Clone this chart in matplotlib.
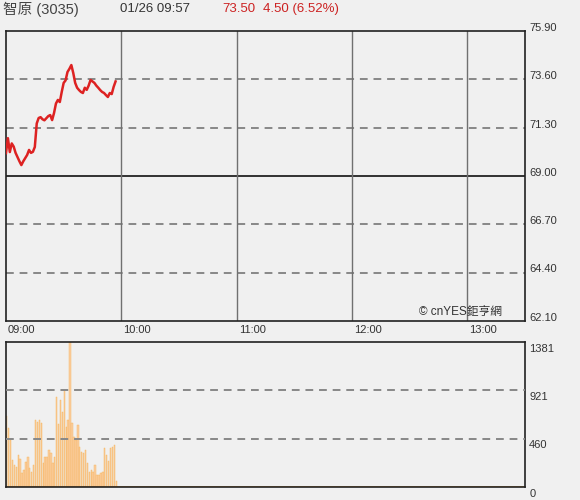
import matplotlib.pyplot as plt
from matplotlib.transforms import ScaledTranslation

plt.rcParams['font.family'] = ['Liberation Sans', 'Noto Sans CJK TC', 'DejaVu Sans']

# minutes after 09:00
minutes = list(range(0, 58))
price = [70.09, 70.80, 70.14, 70.55, 70.40, 70.10, 69.90, 69.70, 69.52, 69.70,
         69.85, 70.00, 70.24, 70.10, 70.15, 70.38, 71.50, 71.76, 71.80, 71.70,
         71.65, 71.75, 71.85, 71.90, 71.66, 72.00, 72.45, 72.62, 72.52, 73.00,
         73.43, 73.55, 73.95, 74.10, 74.28, 73.90, 73.43, 73.20, 73.09, 73.00,
         72.95, 73.20, 73.10, 73.30, 73.57, 73.50, 73.43, 73.30, 73.20, 73.09,
         73.00, 72.95, 72.85, 72.76, 72.95, 72.90, 73.24, 73.50]
volume = [676, 560, 447, 257, 210, 193, 305, 266, 133, 162,
          240, 289, 181, 146, 209, 638, 622, 638, 609, 228,
          289, 289, 352, 324, 228, 289, 860, 600, 828, 717,
          923, 574, 638, 1381, 609, 479, 447, 590, 383, 336,
          321, 352, 228, 146, 160, 146, 209, 114, 114, 133,
          140, 368, 305, 250, 368, 383, 400, 60]

prev_close = 69.00
price_ticks = [75.90, 73.60, 71.30, 69.00, 66.70, 64.40, 62.10]
vol_ticks = [0, 460, 921, 1381]
hour_pos = [0, 60, 120, 180, 240]
hour_labels = ["09:00", "10:00", "11:00", "12:00", "13:00"]

bg = '#f0f0f0'
fig = plt.figure(figsize=(5.8, 5.0), dpi=100, facecolor=bg)
ax1 = fig.add_axes([0.0103, 0.358, 0.895, 0.58], facecolor=bg)
ax2 = fig.add_axes([0.0103, 0.026, 0.895, 0.290], facecolor=bg)

# price panel
for t in price_ticks[1:-1]:
    if t == prev_close:
        ax1.axhline(t, color='#111111', lw=1.2, zorder=2)
    else:
        ax1.axhline(t, color='#888888', lw=1.4, ls=(0, (4, 3)), zorder=2)
for h in hour_pos[1:]:
    ax1.axvline(h, color='#707070', lw=1.0, zorder=2)
ax1.plot(minutes, price, color='#dd2222', lw=1.8, zorder=3)
ax1.set_xlim(0, 270)
ax1.set_ylim(62.10, 75.90)
ax1.set_yticks(price_ticks)
ax1.set_yticklabels([f"{t:.2f}" for t in price_ticks])
ax1.set_xticks(hour_pos)
ax1.set_xticklabels(hour_labels, ha='left')
ax1.text(0.955, 0.012, "© cnYES鉅亨網", transform=ax1.transAxes, ha='right',
         va='bottom', fontsize=8.5, color='#333333')

# volume panel
ax2.bar(minutes, volume, width=0.75, align='edge', color='#fbcfa2',
        edgecolor='#f5b255', lw=0.3, zorder=1)
ax2.axhline(0, color='#f2a640', lw=1.2, zorder=2)
for t in vol_ticks[1:-1]:
    ax2.axhline(t, color='#888888', lw=1.4, ls=(0, (4, 3)), zorder=3)
ax2.set_xlim(0, 270)
ax2.set_ylim(0, 1381)
ax2.set_yticks(vol_ticks)
ax2.set_yticklabels([str(t) for t in vol_ticks])
ax2.set_xticks([])

for ax in (ax1, ax2):
    for s in ax.spines.values():
        s.set_color('#222222')
        s.set_linewidth(1.2)
    ax.yaxis.tick_right()
    ax.tick_params(axis='y', length=0, pad=3, labelsize=8, labelcolor='#333333')
    ax.tick_params(axis='x', length=0, pad=3, labelsize=8, labelcolor='#333333')

for lab in ax1.get_yticklabels():
    lab.set_transform(lab.get_transform() + ScaledTranslation(0, 3 / 72, fig.dpi_scale_trans))
for lab in ax1.get_xticklabels():
    lab.set_transform(lab.get_transform() + ScaledTranslation(1.5 / 72, 0, fig.dpi_scale_trans))
for lab in ax2.get_yticklabels():
    lab.set_transform(lab.get_transform() + ScaledTranslation(0, -4 / 72, fig.dpi_scale_trans))

# header
fig.text(0.005, 0.982, "智原 (3035)", fontsize=10.5, color='#444444', va='center')
fig.text(0.207, 0.982, "01/26 09:57", fontsize=9.5, color='#333333', va='center')
fig.text(0.383, 0.982, "73.50", fontsize=9.5, color='#cc2222', va='center')
fig.text(0.453, 0.982, "4.50 (6.52%)", fontsize=9.5, color='#cc2222', va='center')

fig.savefig('out.png', dpi=100, facecolor=bg)
